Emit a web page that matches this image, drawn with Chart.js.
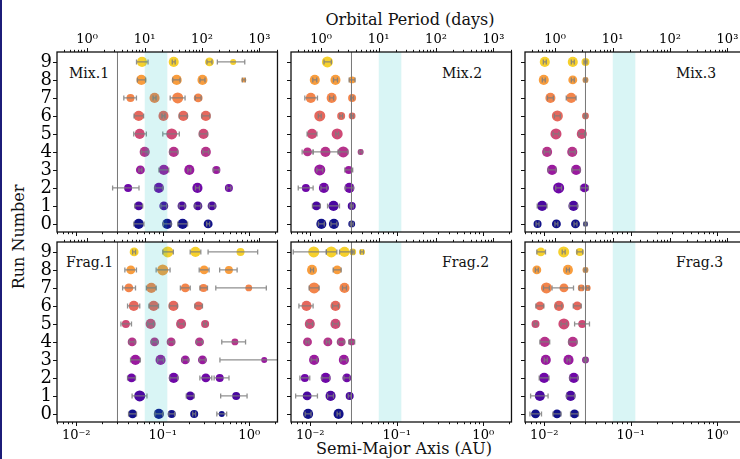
<!DOCTYPE html>
<html>
<head>
<meta charset="utf-8">
<script src="https://cdn.jsdelivr.net/npm/chart.js@4.4.1/dist/chart.umd.min.js"></script>
<style>
html,body{margin:0;padding:0;background:#fff;}
body{width:740px;height:459px;overflow:hidden;position:relative;font-family:'DejaVu Serif',serif;color:#111;}
canvas{position:absolute;}
.txt{position:absolute;white-space:nowrap;line-height:1;transform:translate(-50%,-50%);}
.pn{position:absolute;white-space:nowrap;line-height:1;font-size:14px;transform:translateY(-50%);}
#edge{position:absolute;left:0;top:0;width:2px;height:459px;background:#1c1c78;}
</style>
</head>
<body>
<div id="edge"></div>
<div class="txt" style="left:410px;top:20px;font-size:16px">Orbital Period (days)</div>
<div class="txt" style="left:404px;top:449px;font-size:16px">Semi-Major Axis (AU)</div>
<div class="txt" style="left:19px;top:237px;font-size:16px;transform:translate(-50%,-50%) rotate(-90deg)">Run Number</div>
<div class="pn" style="left:69px;top:73px">Mix.1</div>
<div class="pn" style="left:442px;top:73px">Mix.2</div>
<div class="pn" style="left:676px;top:73px">Mix.3</div>
<div class="pn" style="left:66px;top:262px">Frag.1</div>
<div class="pn" style="left:442px;top:262px">Frag.2</div>
<div class="pn" style="left:676px;top:262px">Frag.3</div>
<script>
// [run, a (AU), err below (dex), err above (dex), mass]
const MIX1=[
  [9,0.0577,0.064,0.069,16],[9,0.134,0.017,0.017,16],[9,0.347,0.029,0.029,11],[9,0.652,0.183,0.134,3.4],
  [8,0.0567,0.046,0.049,16],[8,0.145,0.046,0.039,16],[8,0.288,0.029,0.029,16],[8,0.865,0.017,0.017,2],
  [7,0.0424,0.077,0.069,8],[7,0.0805,0.017,0.017,16],[7,0.149,0.087,0.085,21],[7,0.257,0.034,0.034,11],
  [6,0.0528,0.054,0.057,16],[6,0.102,0.017,0.017,16],[6,0.173,0.046,0.046,16],[6,0.315,0.046,0.046,16],
  [5,0.0542,0.069,0.077,16],[5,0.127,0.103,0.088,21],[5,0.296,0.046,0.046,16],
  [4,0.0619,0.040,0.040,16],[4,0.134,0.046,0.046,16],[4,0.315,0.034,0.034,16],
  [3,0.0552,0.017,0.017,11],[3,0.103,0.057,0.057,16],[3,0.203,0.017,0.017,16],[3,0.417,0.034,0.034,8],
  [2,0.0398,0.179,0.126,8],[2,0.0902,0.046,0.046,16],[2,0.252,0.023,0.023,16],[2,0.582,0.023,0.023,8],
  [1,0.0528,0.046,0.046,11],[1,0.103,0.034,0.034,11],[1,0.167,0.034,0.034,11],[1,0.255,0.034,0.034,11],[1,0.372,0.034,0.034,11],
  [0,0.0528,0.057,0.061,16],[0,0.1127,0.046,0.046,16],[0,0.170,0.057,0.057,16],[0,0.335,0.017,0.017,11]
];
const FRAG1=[
  [9,0.0467,0.017,0.017,11],[9,0.1143,0.057,0.065,21],[9,0.239,0.061,0.062,16],[9,0.793,0.375,0.198,8],
  [8,0.0428,0.069,0.065,11],[8,0.100,0.076,0.085,21],[8,0.301,0.057,0.057,11],[8,0.582,0.107,0.095,8],
  [7,0.0406,0.072,0.077,11],[7,0.0738,0.057,0.057,16],[7,0.1824,0.057,0.057,11],[7,0.296,0.041,0.046,8],[7,0.987,0.381,0.203,5],
  [6,0.0463,0.072,0.069,16],[6,0.0785,0.054,0.057,16],[6,0.133,0.046,0.046,16],[6,0.259,0.041,0.046,11],
  [5,0.0375,0.057,0.065,8],[5,0.0725,0.034,0.034,16],[5,0.163,0.034,0.034,16],[5,0.309,0.017,0.017,8],
  [4,0.0443,0.034,0.034,11],[4,0.0805,0.034,0.034,11],[4,0.125,0.034,0.034,11],[4,0.266,0.034,0.034,11],[4,0.683,0.152,0.123,5],
  [3,0.0484,0.057,0.057,16],[3,0.0944,0.034,0.034,16],[3,0.1824,0.034,0.034,11],[3,0.288,0.034,0.034,11],[3,1.49,0.512,0.5,3.4],
  [2,0.0436,0.046,0.046,11],[2,0.134,0.046,0.046,16],[2,0.315,0.069,0.069,11],[2,0.456,0.065,0.107,8],
  [1,0.0542,0.088,0.084,21],[1,0.208,0.046,0.046,11],[1,0.706,0.179,0.126,8],
  [0,0.0448,0.046,0.046,11],[0,0.0902,0.046,0.046,16],[0,0.127,0.034,0.034,8],[0,0.231,0.017,0.017,8],[0,0.481,0.057,0.057,3.4]
];
const MIX2=[
  [9,0.0158,0.039,0.046,21],
  [8,0.0113,0.023,0.023,16],[8,0.0196,0.023,0.023,16],[8,0.0305,0.034,0.034,5],
  [7,0.01016,0.069,0.077,16],[7,0.0177,0.023,0.023,16],[7,0.0305,0.017,0.017,8],
  [6,0.0129,0.017,0.017,21],[6,0.0228,0.017,0.017,8],[6,0.0305,0.017,0.017,5],
  [5,0.0105,0.057,0.057,16],[5,0.0205,0.017,0.017,21],
  [4,0.00931,0.062,0.064,11],[4,0.0150,0.142,0.164,16],[4,0.0241,0.062,0.053,21],[4,0.0383,0.017,0.017,3.4],
  [3,0.0129,0.034,0.034,21],[3,0.0279,0.046,0.046,8],
  [2,0.00891,0.088,0.084,8],[2,0.0144,0.034,0.034,16],[2,0.0284,0.046,0.046,16],
  [1,0.0118,0.046,0.046,11],[1,0.0186,0.069,0.069,16],[1,0.0302,0.017,0.017,8],
  [0,0.01346,0.034,0.034,16],[0,0.0188,0.034,0.034,16],[0,0.0302,0.017,0.017,5]
];
const FRAG2=[
  [9,0.0110,0.237,0.145,21],[9,0.01754,0.057,0.064,21],[9,0.0249,0.057,0.095,16],[9,0.0310,0.017,0.017,5],[9,0.0397,0.017,0.017,3.4],
  [8,0.0105,0.017,0.017,16],[8,0.0205,0.046,0.046,11],
  [7,0.0111,0.057,0.057,21],[7,0.0249,0.023,0.023,16],
  [6,0.00907,0.088,0.076,16],[6,0.0196,0.034,0.034,16],
  [5,0.00989,0.034,0.034,16],[5,0.0196,0.034,0.034,16],
  [4,0.00931,0.017,0.017,11],[4,0.0160,0.017,0.017,11],[4,0.0228,0.034,0.034,11],[4,0.0302,0.034,0.034,5],
  [3,0.0111,0.034,0.034,16],[3,0.0245,0.034,0.034,16],
  [2,0.00867,0.057,0.057,8],[2,0.0151,0.046,0.046,16],[2,0.0265,0.034,0.034,11],
  [1,0.00922,0.133,0.119,11],[1,0.0172,0.034,0.034,16],[1,0.0286,0.017,0.017,8],
  [0,0.00946,0.034,0.034,16],[0,0.0213,0.017,0.017,16]
];
const MIX3=[
  [9,0.01016,0.017,0.017,16],[9,0.0214,0.017,0.017,16],[9,0.0300,0.017,0.017,8],
  [8,0.00989,0.017,0.017,16],[8,0.0214,0.017,0.017,11],[8,0.0300,0.017,0.017,3.4],
  [7,0.0118,0.034,0.034,16],[7,0.0205,0.057,0.057,16],
  [6,0.0142,0.034,0.034,21],[6,0.0300,0.017,0.017,5],
  [5,0.01368,0.034,0.034,21],[5,0.0272,0.034,0.034,16],
  [4,0.0108,0.034,0.034,16],[4,0.0211,0.034,0.034,16],
  [3,0.01233,0.046,0.046,16],[3,0.0234,0.046,0.046,16],
  [2,0.01469,0.034,0.034,21],[2,0.0292,0.046,0.046,11],
  [1,0.00946,0.057,0.057,16],[1,0.0218,0.046,0.046,16],
  [0,0.00838,0.017,0.017,8],[0,0.01384,0.017,0.017,11],[0,0.0230,0.017,0.017,11],[0,0.0300,0.017,0.017,2]
];
const FRAG3=[
  [9,0.00914,0.046,0.054,11],[9,0.0168,0.017,0.017,21],[9,0.0258,0.034,0.034,8],
  [8,0.00822,0.017,0.017,11],[8,0.0188,0.017,0.017,16],[8,0.0300,0.017,0.017,3.4],
  [7,0.0106,0.034,0.034,21],[7,0.0169,0.137,0.111,11],[7,0.0268,0.023,0.023,5],[7,0.0318,0.017,0.017,3.4],
  [6,0.00891,0.046,0.046,11],[6,0.01482,0.034,0.034,16],[6,0.0241,0.046,0.046,11],
  [5,0.00794,0.017,0.017,8],[5,0.0169,0.034,0.034,21],[5,0.0275,0.088,0.084,8],
  [4,0.01016,0.057,0.057,16],[4,0.0214,0.046,0.046,16],
  [3,0.01043,0.017,0.017,16],[3,0.0191,0.017,0.017,16],[3,0.0300,0.017,0.017,5],
  [2,0.00998,0.057,0.057,16],[2,0.0220,0.046,0.046,16],
  [1,0.00891,0.107,0.095,16],[1,0.0202,0.046,0.046,16],
  [0,0.00794,0.065,0.069,11],[0,0.01406,0.046,0.046,11],[0,0.0224,0.046,0.046,11]
];

const RUN_TICKS=[0,1,2,3,4,5,6,7,8,9];
const A_TICKS=[0.01,0.1,1];
const P_TICKS=[1,10,100,1000];
const A_MIN=0.006, A_MAX=2.12, MSTAR=0.3;
const INNER_EDGE=0.03, BAND=[0.062,0.113];
const RUN_COLORS=['#12128a','#4a08a0','#6f08a8','#9a1a9f','#b6338b','#cf4a76','#e5685d','#f3854b','#f99d3d','#f6d02c'];

const FONT="'DejaVu Serif', serif";
const period=a=>365.25*Math.sqrt(a*a*a/MSTAR);
const SUP={'0':'⁰','1':'¹','2':'²','3':'³','4':'⁴','-':'⁻'};
const sup=v=>'10'+String(Math.round(Math.log10(v))).split('').map(c=>SUP[c]).join('');
function logTicks(min,max){
  const out=[];
  for(let e=Math.floor(Math.log10(min));e<=Math.ceil(Math.log10(max));e++)
    for(let k=1;k<10;k++){const v=k*Math.pow(10,e); if(v>=min&&v<=max) out.push({v,major:k===1});}
  return out;
}
const COL_LEFT=[57,291,525], ROW_TOP=[52,242], PW=222, PH=180, YW=30, XH=24;

function makeOverlay(pts){
  return {
    id:'overlay',
    afterDatasetsDraw(chart){
      const {ctx,chartArea:ca,scales:{x,y}}=chart;
      ctx.save();
      ctx.beginPath();ctx.rect(ca.left,ca.top,ca.right-ca.left,ca.bottom-ca.top);ctx.clip();
      ctx.strokeStyle='rgba(125,125,125,0.85)';ctx.lineWidth=1.3;
      pts.forEach(p=>{
        const yy=y.getPixelForValue(p[0]);
        const x0=x.getPixelForValue(p[1]*Math.pow(10,-p[2])), x1=x.getPixelForValue(p[1]*Math.pow(10,p[3]));
        ctx.beginPath();
        ctx.moveTo(x0,yy);ctx.lineTo(x1,yy);
        ctx.moveTo(x0,yy-2.5);ctx.lineTo(x0,yy+2.5);
        ctx.moveTo(x1,yy-2.5);ctx.lineTo(x1,yy+2.5);
        ctx.stroke();
      });
      const xe=x.getPixelForValue(INNER_EDGE);
      ctx.strokeStyle='#777';ctx.lineWidth=1;
      ctx.beginPath();ctx.moveTo(xe,ca.top);ctx.lineTo(xe,ca.bottom);ctx.stroke();
      const b0=x.getPixelForValue(BAND[0]), b1=x.getPixelForValue(BAND[1]);
      ctx.fillStyle='rgba(0,191,191,0.15)';
      ctx.fillRect(b0,ca.top,b1-b0,ca.bottom-ca.top);
      ctx.restore();
    },
    afterDraw(chart){
      const {ctx,chartArea:ca,scales:{x,x2,y}}=chart;
      ctx.save();
      ctx.strokeStyle='#111';ctx.lineWidth=1;
      ctx.beginPath();
      logTicks(A_MIN,A_MAX).forEach(t=>{
        const px=Math.round(x.getPixelForValue(t.v))+0.5;
        ctx.moveTo(px,ca.bottom);ctx.lineTo(px,ca.bottom+(t.major?4:2.2));
      });
      logTicks(period(A_MIN),period(A_MAX)).forEach(t=>{
        const px=Math.round(x2.getPixelForValue(t.v))+0.5;
        ctx.moveTo(px,ca.top);ctx.lineTo(px,ca.top-(t.major?4:2.2));
      });
      RUN_TICKS.forEach(r=>{
        const py=Math.round(y.getPixelForValue(r))+0.5;
        ctx.moveTo(ca.left,py);ctx.lineTo(ca.left-4,py);
      });
      ctx.stroke();
      ctx.lineWidth=1.3;ctx.strokeStyle='#111';
      ctx.strokeRect(ca.left,ca.top,ca.right-ca.left,ca.bottom-ca.top);
      ctx.restore();
    }
  };
}

function panel(pts,col,row){
  const cv=document.createElement('canvas');
  cv.width=YW+PW+4;cv.height=XH*2+PH;
  cv.style.left=(COL_LEFT[col]-YW)+'px';cv.style.top=(ROW_TOP[row]-XH)+'px';
  document.body.appendChild(cv);
  const axisFont={family:FONT,size:13};
  new Chart(cv,{type:'scatter',
    data:{datasets:[{data:pts.map(p=>({x:p[1],y:p[0]})),
      pointRadius:pts.map(p=>2*Math.cbrt(p[4])),pointHoverRadius:pts.map(p=>2*Math.cbrt(p[4])),
      backgroundColor:pts.map(p=>RUN_COLORS[p[0]]),borderWidth:0}]},
    options:{responsive:false,animation:false,devicePixelRatio:1,events:[],
      layout:{padding:{left:0,right:4,top:0,bottom:0}},
      plugins:{legend:{display:false},tooltip:{enabled:false}},
      scales:{
        x:{type:'logarithmic',position:'bottom',min:A_MIN,max:A_MAX,
          afterBuildTicks:s=>{s.ticks=A_TICKS.map(v=>({value:v}));},
          afterFit:s=>{s.height=XH;},
          grid:{display:false,drawTicks:false},border:{display:false},
          ticks:{display:row===1,padding:6,autoSkip:false,maxRotation:0,color:'#000',font:axisFont,callback:v=>sup(v)}},
        x2:{type:'logarithmic',position:'top',min:period(A_MIN),max:period(A_MAX),
          afterBuildTicks:s=>{s.ticks=P_TICKS.map(v=>({value:v}));},
          afterFit:s=>{s.height=XH;},
          grid:{display:false,drawTicks:false},border:{display:false},
          ticks:{display:row===0,padding:5,autoSkip:false,maxRotation:0,color:'#000',font:axisFont,callback:v=>sup(v)}},
        y:{type:'linear',min:-0.45,max:9.55,
          afterBuildTicks:s=>{s.ticks=RUN_TICKS.map(v=>({value:v}));},
          afterFit:s=>{s.width=YW;},
          grid:{display:false,drawTicks:false},border:{display:false},
          ticks:{display:col===0,padding:5,autoSkip:false,color:'#000',font:{family:FONT,size:18}}}
      }},
    plugins:[makeOverlay(pts)]
  });
}

panel(MIX1,0,0);panel(MIX2,1,0);panel(MIX3,2,0);
panel(FRAG1,0,1);panel(FRAG2,1,1);panel(FRAG3,2,1);
</script>
</body>
</html>
